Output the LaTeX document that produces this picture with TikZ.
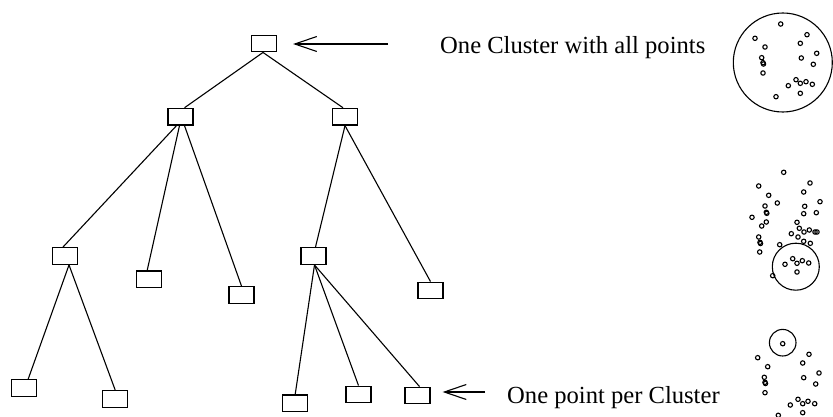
\documentclass[tikz,border=0pt]{standalone}
\usepackage{fontspec}
\setmainfont{Liberation Serif}
\usetikzlibrary{arrows.meta,calc}

\tikzset{
  treebox/.style={draw, line width=1.2pt, minimum width=25pt, minimum height=16.7pt, inner sep=0pt},
  edge/.style={line width=1.1pt},
  pointer/.style={line width=1.1pt, -{Straight Barb[length=22pt,width=15pt,line width=1.1pt]}},
  caption/.style={anchor=base west, inner sep=0pt, font=\fontsize{24.6}{30}\selectfont},
  pt/.style={line width=1.1pt},
  ring/.style={line width=1.1pt}
}

\begin{document}
\begin{tikzpicture}[x=1pt, y=-1pt]
\useasboundingbox (0,0) rectangle (833,417);

% hierarchy of clusters
\node[treebox] (root) at (264,43.5) {};
\node[treebox] (L)    at (180.5,116.7) {};
\node[treebox] (R)    at (345,116.7) {};
\node[treebox] (LL)   at (65,256) {};
\node[treebox] (LM)   at (149.2,279.3) {};
\node[treebox] (LR)   at (241.5,295) {};
\node[treebox] (RL)   at (313.5,256) {};
\node[treebox] (RR)   at (430.5,290.5) {};
\node[treebox] (LLa)  at (24.2,388) {};
\node[treebox] (LLb)  at (115.2,399) {};
\node[treebox] (RLa)  at (295.2,403.3) {};
\node[treebox] (RLb)  at (358.5,394.5) {};
\node[treebox] (RLc)  at (417.5,395.5) {};

\draw[edge] ([xshift=-1pt]root.south) -- ([xshift=4pt]L.north);
\draw[edge] ([xshift=-1pt]root.south) -- ([xshift=-2pt]R.north);
\draw[edge] ([xshift=-4pt]L.south) -- ([xshift=-2pt]LL.north);
\draw[edge] ([xshift=-1pt]L.south) -- ([xshift=-2pt]LM.north);
\draw[edge] ([xshift=4pt]L.south) -- (LR.north);
\draw[edge] (R.south) -- ([xshift=2pt]RL.north);
\draw[edge] (R.south) -- (RR.north);
\draw[edge] ([xshift=4pt]LL.south) -- ([xshift=4pt]LLa.north);
\draw[edge] ([xshift=4pt]LL.south) -- (LLb.north);
\draw[edge] ([xshift=1pt]RL.south) -- (RLa.north);
\draw[edge] ([xshift=1pt]RL.south) -- (RLb.north);
\draw[edge] ([xshift=1pt]RL.south) -- ([xshift=2pt]RLc.north);

% labels with pointers
\coordinate (topTail) at (388,44);
\coordinate (botTail) at (485,392);
\draw[pointer] (topTail) -- ([xshift=16pt]root.east |- topTail);
\draw[pointer] (botTail) -- ([xshift=12pt]RLc.east |- botTail);
\node[caption] (topText) at (440,53.3) {One Cluster with all points};
\node[caption] (botText) at (507,403.3) {One point per Cluster};

% all points in one cluster
\draw[ring] (782.8,62.5) circle[radius=49.5];
\foreach \x/\y in {780.7/24, 755/38.3, 765/47, 807/34.7, 800.3/43.3, 816.7/53.3,
  801.3/58, 813.3/64.3, 761.7/57.7, 763/62.7, 763.5/64, 763/73, 796/79.7,
  800.3/83.3, 806/81.7, 812.3/84.3, 788.3/85.7, 800.3/93.3, 776/96.7}
  \draw[pt] (\x,\y) circle[radius=2.2];

% intermediate level
\draw[ring] (795.8,266.7) circle[radius=23.5];
\foreach \x/\y in {783.7/172.3, 758.7/186, 810/183, 803.7/192, 768.7/195.3,
  820/201.7, 777.3/203, 765/206, 804.7/206.3, 766.3/212.3, 766.8/213.3,
  816.3/212.7, 803.7/213.7, 752/217.3, 766.3/222, 761.7/226, 797/222.3,
  799.3/228.3, 804/232, 809.3/230, 815/232, 817/232, 791.3/233.7, 798/237,
  758.7/237, 760/242.3, 760.5/243.5, 803.7/241.3, 810.3/243.3, 779.7/244.7,
  759.7/252, 792.7/258.7, 797/263.3, 802.3/260.7, 808.7/263, 785/264.3,
  797/272, 772.7/275.7}
  \draw[pt] (\x,\y) circle[radius=2.2];

% one point per cluster
\draw[ring] (782.7,342.7) circle[radius=13.3];
\foreach \x/\y in {782.7/343.7, 757.7/357.7, 767.7/366.7, 809/354.3,
  802.7/363, 819/373, 803.7/377.7, 815.7/384, 764.3/377.3, 765/382.3,
  765.5/383.5, 765/392.7, 798/399.3, 802.7/403.7, 808/401.3, 814.7/403.7,
  790.3/405, 802.7/412.7, 778.3/415.3}
  \draw[pt] (\x,\y) circle[radius=2.2];
\end{tikzpicture}
\end{document}
